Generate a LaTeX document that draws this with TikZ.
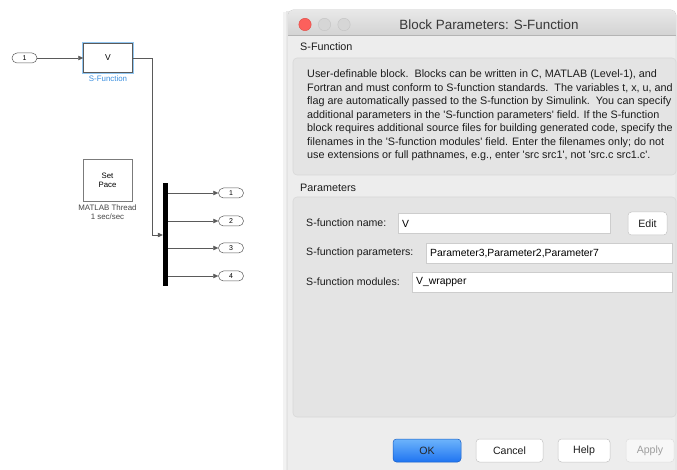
\documentclass[tikz,border=0pt]{standalone}
\usepackage{fontspec}
\setmainfont{Liberation Sans}
\usetikzlibrary{arrows.meta}

\definecolor{wire}{HTML}{5A5A5A}
\definecolor{glow}{HTML}{92C7F2}
\definecolor{sllabel}{HTML}{3A8FE0}
\definecolor{dlgbg}{HTML}{EDEDED}
\definecolor{panelbg}{HTML}{E4E4E4}
\definecolor{panelline}{HTML}{D8D8D8}
\definecolor{titletop}{HTML}{E8E8E8}
\definecolor{titlebot}{HTML}{D3D3D3}
\definecolor{titlerule}{HTML}{B4B4B4}
\definecolor{dlgtext}{HTML}{1C1C1C}
\definecolor{fieldline}{HTML}{CDCDCD}
\definecolor{btnline}{HTML}{C4C4C4}
\definecolor{okTop}{HTML}{6DB4FB}
\definecolor{okBot}{HTML}{1F74F1}
\definecolor{closered}{HTML}{FC605C}
\definecolor{closeline}{HTML}{DE4A43}
\definecolor{lightgray}{HTML}{D6D6D6}
\definecolor{lightline}{HTML}{C3C3C3}

\newcommand{\sq}{\textquotesingle}
\newcommand{\fs}[1]{\fontsize{#1}{#1}\selectfont}

\tikzset{
  x=1pt, y=-1pt,
  port/.style={draw=wire, line width=0.5pt, fill=white, rounded corners=5pt,
    minimum width=25, minimum height=10, inner sep=0pt, font=\fs{7}},
  sfun/.style={draw=wire, line width=0.5pt, fill=white, minimum width=49,
    minimum height=29, inner sep=0pt, font=\fs{8.5},
    preaction={draw=glow, line width=3pt}},
  paceblk/.style={draw=wire!80, line width=0.6pt, fill=white, minimum width=49,
    minimum height=42, inner sep=0pt, align=center, font=\fontsize{7.8}{9}\selectfont},
  blklabel/.style={inner sep=0pt, align=center, font=\fontsize{7.9}{9}\selectfont},
  wireline/.style={draw=wire, line width=0.5pt},
  wirearrow/.style={wireline, -{Triangle[length=5pt,width=4.5pt]}},
  desc/.style={anchor=base west, inner sep=0pt, text=dlgtext, font=\fs{10.8}},
  dlglabel/.style={anchor=west, inner sep=0pt, text=dlgtext, font=\fs{10.6}},
  field/.style={draw=fieldline, line width=0.5pt, fill=white},
  fieldtext/.style={anchor=west, inner sep=0pt, text=black, font=\fs{10.4}},
  button/.style={draw=btnline, line width=0.5pt, fill=white, rounded corners=3.5pt,
    minimum height=23, inner sep=0pt, text=dlgtext, font=\fs{10.6}},
  panel/.style={fill=panelbg, draw=panelline, line width=0.6pt, rounded corners=4pt},
}

\begin{document}
\begin{tikzpicture}
\clip (0,0) rectangle (677,470);
\fill[white] (0,0) rectangle (677,470);

% ---------------- Simulink model ----------------
\node[port] (in1) at (24.5,58) {1};
\node[sfun] (sf) at (108,58) {V};
\node[blklabel, text=sllabel] (sflabel) at (108,78.5) {S-Function};

\node[paceblk] (pace) at (107.5,180) {Set\\Pace};
\node[blklabel, text=wire!80!black] (pacelabel) at (107.5,212.5) {MATLAB Thread\\1 sec/sec};

\node[fill=black, minimum width=5, minimum height=103, inner sep=0pt] (bus) at (165.5,234.5) {};

\node[port] (out1) at (231,193) {1};
\node[port] (out2) at (231,221) {2};
\node[port] (out3) at (231,248) {3};
\node[port] (out4) at (231,276) {4};

\coordinate (turn) at (152,235);
\draw[wirearrow] (in1.east) -- (sf.west);
\draw[wirearrow] (sf.east) -| (turn) -- (turn -| bus.west);
\foreach \k in {1,2,3,4}
  \draw[wirearrow] (bus.east |- out\k) -- (out\k.west);

% ---------------- dialog window ----------------
% soft shadow along the left edge
\fill[black!5] (283,12) rectangle (290,480);
\fill[black!9] (285.5,11) rectangle (290,480);
\fill[dlgbg, draw=lightline, line width=0.5pt, rounded corners=5pt] (288,10) rectangle (676,490);
\fill[black!7] (288.3,36) rectangle (291.5,490);

% title bar
\shade[top color=titletop, bottom color=titlebot]
  (288,35) [rounded corners=5pt] -- (288,10) -- (676,10) [sharp corners] -- (676,35) -- cycle;
\draw[titlerule, line width=0.7pt] (288,35) -- (676,35);
\fill[closered, draw=closeline, line width=0.4pt] (305,24.5) circle (6.2);
\fill[lightgray, draw=lightline, line width=0.4pt] (324.5,24.5) circle (6.2);
\fill[lightgray, draw=lightline, line width=0.4pt] (344,24.5) circle (6.2);
\node[inner sep=0pt, text=black!78, font=\fs{13.4}] (title) at (489,24.5) {Block Parameters: S-Function};

% block description
\node[dlglabel, font=\fs{10.8}] (hdr) at (300,46.5) {S-Function};
\path[panel] (293,58) rectangle (676,175);
\node[desc] (d1) at (307,78) {User-definable block.\ \ Blocks can be written in C, MATLAB (Level-1), and};
\node[desc] (d2) at (307,91.5) {Fortran and must conform to S-function standards.\ \ The variables t, x, u, and};
\node[desc] (d3) at (307,105) {flag are automatically passed to the S-function by Simulink.\ \ You can specify};
\node[desc] (d4) at (307,118.5) {additional parameters in the \sq S-function parameters\sq\ field. If the S-function};
\node[desc] (d5) at (307,132) {block requires additional source files for building generated code, specify the};
\node[desc] (d6) at (307,145.5) {filenames in the \sq S-function modules\sq\ field. Enter the filenames only; do not};
\node[desc] (d7) at (307,159) {use extensions or full pathnames, e.g., enter \sq src src1\sq, not \sq src.c src1.c\sq.};

% parameters
\node[dlglabel, font=\fs{10.8}] (phdr) at (300,188) {Parameters};
\path[panel] (293,197) rectangle (676,417);

\node[dlglabel] (lname) at (306,223) {S-function name:};
\path[field] (398,213) rectangle (610,233);
\node[fieldtext] (vname) at (402,223.5) {V};
\node[button, minimum width=39] (edit) at (647.5,223.5) {Edit};

\node[dlglabel] (lpar) at (306,253) {S-function parameters:};
\path[field] (426,243) rectangle (672,263);
\node[fieldtext] (vpar) at (430,253.5) {Parameter3,Parameter2,Parameter7};

\node[dlglabel] (lmod) at (306,282) {S-function modules:};
\path[field] (412,272) rectangle (672,292);
\node[fieldtext] (vmod) at (416,282.5) {V\_wrapper};

% buttons
\node[button, draw=okBot!80!black, top color=okTop, bottom color=okBot,
      minimum width=68, text=black!85] (ok) at (427,450.5) {OK};
\node[button, minimum width=67] (cancel) at (509.5,450.5) {Cancel};
\node[button, minimum width=52] (help) at (584,450.5) {Help};
\node[button, minimum width=48, fill=black!3, draw=black!13, text=black!38] (apply) at (650,450.5) {Apply};
\end{tikzpicture}
\end{document}
